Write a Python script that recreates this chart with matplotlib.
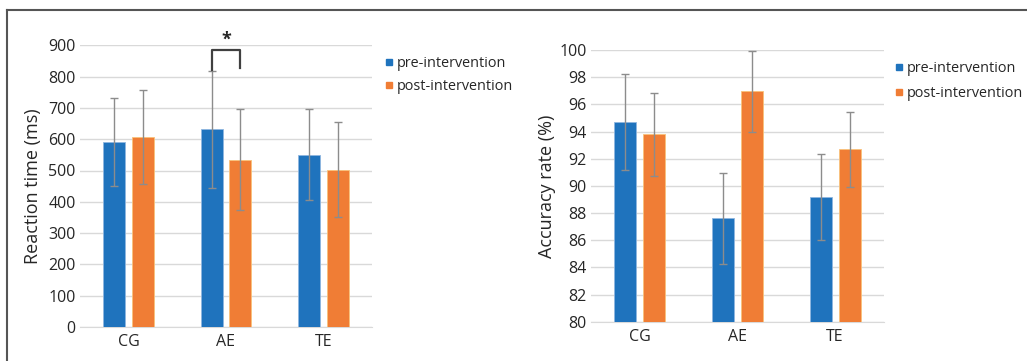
import matplotlib
matplotlib.use("Agg")
import matplotlib.pyplot as plt
import numpy as np
from matplotlib.lines import Line2D

plt.rcParams["font.family"] = ["Open Sans", "DejaVu Sans"]

# Dados
groups = ["CG", "AE", "TE"]
series = ["pre-intervention", "post-intervention"]

rt_pre = [591, 631, 550]
rt_pre_sd = [140, 187, 145]
rt_post = [606, 535, 503]
rt_post_sd = [150, 160, 152]

acc_pre = [94.7, 87.6, 89.2]
acc_pre_sd = [3.5, 3.35, 3.17]
acc_post = [93.8, 96.95, 92.7]
acc_post_sd = [3.05, 2.95, 2.75]

BLUE = "#1f73bd"
ORANGE = "#f07d35"
GRID = "#d9d9d9"
ERR = "#8c8c8c"

W, H = 1027, 361
fig = plt.figure(figsize=(W / 100, H / 100), dpi=100)


def px_axes(x0, x1, ytop, ybot):
    return fig.add_axes([x0 / W, 1 - ybot / H, (x1 - x0) / W, (ybot - ytop) / H])


def bar_panel(ax, pre, pre_sd, post, post_sd, ylim, step, ylabel, labelpad):
    x = np.arange(len(groups))
    off = 0.147
    bw = 0.225
    ax.bar(x - off, pre, bw, color=BLUE, edgecolor="#8fb6e0", linewidth=0.6, zorder=3)
    ax.bar(x + off, post, bw, color=ORANGE, edgecolor="#f9c27a", linewidth=0.6, zorder=3)
    ax.errorbar(x - off, pre, yerr=pre_sd, fmt="none", ecolor=ERR, elinewidth=1, capsize=3, capthick=1, zorder=4)
    ax.errorbar(x + off, post, yerr=post_sd, fmt="none", ecolor=ERR, elinewidth=1, capsize=3, capthick=1, zorder=4)
    ax.set_xlim(-0.5, len(groups) - 0.5)
    ax.set_ylim(*ylim)
    ax.set_yticks(np.arange(ylim[0], ylim[1] + step / 2, step))
    ax.set_xticks(x)
    ax.set_xticklabels(groups)
    ax.grid(axis="y", color=GRID, linewidth=1, zorder=0)
    for s in ["top", "right", "left"]:
        ax.spines[s].set_visible(False)
    ax.spines["bottom"].set_color(GRID)
    ax.tick_params(axis="y", length=0, labelsize=11.5, colors="#262626", pad=3)
    ax.tick_params(axis="x", length=0, labelsize=11.5, colors="#262626", pad=5)
    ax.set_ylabel(ylabel, fontsize=13, color="#262626", labelpad=labelpad)


ax1 = px_axes(80, 372, 45.3, 327)
bar_panel(ax1, rt_pre, rt_pre_sd, rt_post, rt_post_sd, (0, 900), 100, "Reaction time (ms)", 4.5)

ax2 = px_axes(591, 884, 50, 321.7)
bar_panel(ax2, acc_pre, acc_pre_sd, acc_post, acc_post_sd, (80, 100), 2, "Accuracy rate (%)", 2.5)

# Marca de significância
bx0, bx1 = 1 - 0.147, 1 + 0.147
ax1.plot([bx0, bx0, bx1, bx1], [820, 884, 884, 826], color="#404040", lw=1.6, clip_on=False, zorder=5)
ax1.text(1, 889, "*", ha="center", va="bottom", fontsize=13, fontweight="bold", color="#262626", clip_on=False)

# Legendas
handles = [
    Line2D([], [], marker="s", ls="", color=BLUE, markersize=4.5),
    Line2D([], [], marker="s", ls="", color=ORANGE, markersize=4.5),
]
fig.legend(handles, series, loc="upper left", bbox_to_anchor=(377 / W, 1 - 49 / H), frameon=False,
           fontsize=10.4, handlelength=0.6, handletextpad=0.3, labelspacing=0.55, borderpad=0,
           labelcolor="#262626")
fig.legend(handles, series, loc="upper left", bbox_to_anchor=(887 / W, 1 - 54 / H), frameon=False,
           fontsize=10.4, handlelength=0.6, handletextpad=0.3, labelspacing=0.7, borderpad=0,
           labelcolor="#262626")

# Moldura
fig.add_artist(Line2D([7 / W, 7 / W], [0, 1 - 9.5 / H], color="#555555", lw=1.5))
fig.add_artist(Line2D([7 / W, 1], [1 - 9.5 / H, 1 - 9.5 / H], color="#555555", lw=1.5))

fig.savefig("out.png", dpi=100)
